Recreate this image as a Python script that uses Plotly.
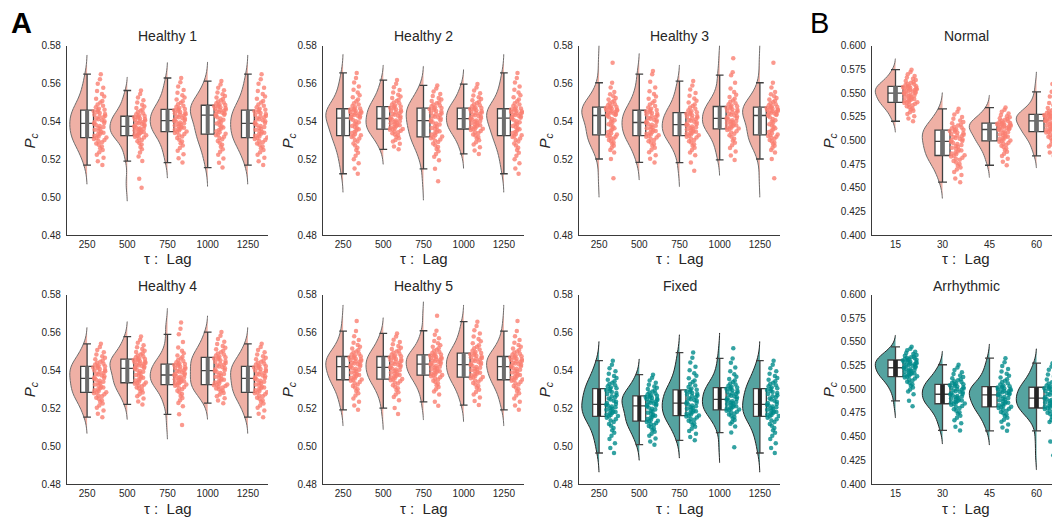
import plotly.graph_objects as go

# ---------------- data (values in units of 1e-4) ----------------
LAGS_A = ["250", "500", "750", "1000", "1250"]
LAGS_B = ["15", "30", "45", "60"]
SCALE = 1e-4

H1_250 = [5170, 5190, 5209, 5225, 5238, 5249, 5259, 5268, 5277, 5284, 5291, 5297, 5302, 5308, 5313,
          5316, 5321, 5325, 5331, 5335, 5341, 5345, 5350, 5356, 5361, 5366, 5371, 5376, 5382, 5388,
          5392, 5397, 5402, 5407, 5412, 5417, 5422, 5426, 5431, 5436, 5440, 5445, 5450, 5454, 5459,
          5462, 5468, 5475, 5483, 5490, 5500, 5509, 5521, 5532, 5546, 5561, 5578, 5599, 5623, 5650]
H1_500 = [5050, 5098, 5191, 5215, 5236, 5254, 5266, 5279, 5287, 5296, 5303, 5310, 5315, 5320, 5325,
          5327, 5330, 5333, 5337, 5339, 5343, 5346, 5349, 5352, 5356, 5359, 5362, 5365, 5369, 5373,
          5376, 5379, 5383, 5387, 5391, 5395, 5398, 5402, 5405, 5409, 5413, 5416, 5420, 5423, 5427,
          5429, 5433, 5439, 5444, 5450, 5457, 5463, 5472, 5480, 5489, 5500, 5512, 5527, 5545, 5564]
H1_750 = [5183, 5206, 5227, 5245, 5260, 5273, 5285, 5295, 5304, 5313, 5321, 5327, 5334, 5340, 5345,
          5348, 5352, 5356, 5360, 5363, 5367, 5371, 5375, 5379, 5383, 5386, 5391, 5395, 5399, 5403,
          5407, 5411, 5415, 5419, 5423, 5427, 5432, 5436, 5439, 5443, 5447, 5451, 5455, 5459, 5463,
          5466, 5471, 5477, 5484, 5491, 5499, 5507, 5517, 5527, 5539, 5552, 5567, 5585, 5607, 5630]
H1_1000 = [5157, 5182, 5205, 5224, 5240, 5254, 5267, 5277, 5288, 5297, 5306, 5313, 5320, 5327, 5332,
           5336, 5343, 5349, 5356, 5362, 5369, 5375, 5382, 5389, 5396, 5402, 5409, 5416, 5423, 5431,
           5436, 5439, 5443, 5446, 5450, 5454, 5457, 5461, 5464, 5468, 5471, 5475, 5478, 5481, 5485,
           5487, 5491, 5496, 5501, 5506, 5513, 5519, 5527, 5535, 5544, 5554, 5565, 5579, 5596, 5614]
H1_1250 = list(H1_250)

H2_250 = [5124, 5152, 5179, 5201, 5219, 5235, 5249, 5261, 5273, 5284, 5294, 5302, 5310, 5318, 5324,
          5328, 5334, 5340, 5346, 5352, 5359, 5364, 5371, 5377, 5384, 5389, 5396, 5402, 5409, 5416,
          5420, 5424, 5427, 5431, 5434, 5437, 5441, 5444, 5447, 5450, 5454, 5456, 5460, 5463, 5466,
          5469, 5475, 5482, 5490, 5497, 5507, 5516, 5528, 5539, 5553, 5568, 5585, 5606, 5630, 5657]
H2_500 = [5253, 5268, 5282, 5294, 5303, 5312, 5319, 5326, 5332, 5338, 5343, 5347, 5351, 5356, 5359,
          5361, 5365, 5368, 5372, 5376, 5380, 5383, 5387, 5391, 5395, 5398, 5402, 5406, 5410, 5414,
          5418, 5422, 5427, 5431, 5436, 5440, 5444, 5449, 5453, 5457, 5461, 5465, 5470, 5473, 5478,
          5480, 5485, 5490, 5496, 5501, 5508, 5515, 5524, 5532, 5542, 5553, 5566, 5581, 5599, 5619]
H2_750 = [5085, 5150, 5196, 5214, 5229, 5243, 5255, 5265, 5275, 5284, 5292, 5299, 5305, 5312, 5317,
          5321, 5327, 5332, 5338, 5343, 5349, 5354, 5360, 5366, 5372, 5377, 5384, 5390, 5396, 5402,
          5407, 5412, 5416, 5421, 5425, 5430, 5435, 5439, 5443, 5448, 5453, 5456, 5461, 5465, 5470,
          5472, 5476, 5481, 5485, 5490, 5496, 5502, 5509, 5517, 5525, 5535, 5545, 5559, 5574, 5591]
H2_1000 = [5229, 5247, 5264, 5279, 5291, 5301, 5310, 5318, 5326, 5332, 5339, 5344, 5350, 5355, 5359,
           5362, 5364, 5369, 5373, 5375, 5381, 5384, 5386, 5392, 5394, 5399, 5403, 5405, 5411, 5413,
           5418, 5422, 5425, 5429, 5433, 5437, 5441, 5445, 5448, 5452, 5456, 5459, 5463, 5466, 5470,
           5472, 5476, 5481, 5486, 5491, 5498, 5504, 5512, 5519, 5528, 5538, 5550, 5564, 5580, 5598]
H2_1250 = list(H2_250)

H3_250 = [5100, 5202, 5236, 5250, 5262, 5272, 5281, 5288, 5296, 5302, 5309, 5314, 5319, 5324, 5328,
          5331, 5338, 5345, 5352, 5358, 5365, 5372, 5379, 5386, 5393, 5400, 5407, 5414, 5422, 5430,
          5434, 5437, 5440, 5443, 5446, 5449, 5452, 5455, 5458, 5461, 5464, 5467, 5470, 5472, 5475,
          5477, 5481, 5486, 5491, 5497, 5503, 5510, 5517, 5525, 5534, 5544, 5556, 5580, 5605, 5710]
H3_500 = [5184, 5204, 5222, 5238, 5251, 5262, 5272, 5281, 5289, 5296, 5303, 5309, 5315, 5320, 5325,
          5327, 5332, 5336, 5341, 5345, 5350, 5354, 5359, 5364, 5369, 5373, 5378, 5383, 5387, 5393,
          5397, 5401, 5406, 5410, 5415, 5419, 5424, 5428, 5432, 5437, 5441, 5445, 5449, 5453, 5458,
          5461, 5467, 5474, 5482, 5490, 5499, 5509, 5520, 5532, 5545, 5560, 5580, 5610, 5650, 5667]
H3_750 = [5140, 5183, 5222, 5237, 5250, 5262, 5272, 5280, 5289, 5296, 5303, 5309, 5315, 5320, 5325,
          5327, 5331, 5335, 5339, 5342, 5346, 5350, 5354, 5358, 5362, 5365, 5370, 5374, 5378, 5382,
          5386, 5390, 5395, 5399, 5404, 5408, 5412, 5417, 5421, 5425, 5429, 5433, 5438, 5441, 5446,
          5449, 5454, 5460, 5467, 5474, 5482, 5490, 5500, 5510, 5522, 5536, 5551, 5569, 5591, 5614]
H3_1000 = [5197, 5220, 5242, 5260, 5275, 5288, 5299, 5309, 5319, 5327, 5336, 5342, 5349, 5355, 5360,
           5363, 5367, 5370, 5374, 5377, 5381, 5385, 5388, 5392, 5396, 5399, 5403, 5407, 5411, 5415,
           5419, 5423, 5428, 5432, 5436, 5441, 5445, 5449, 5453, 5457, 5462, 5465, 5470, 5473, 5478,
           5481, 5485, 5491, 5497, 5504, 5511, 5520, 5530, 5541, 5556, 5575, 5605, 5645, 5660, 5734]
H3_1250 = list(H3_250)

H4_250 = [5153, 5171, 5188, 5203, 5215, 5225, 5234, 5242, 5250, 5256, 5263, 5268, 5274, 5279, 5283,
          5285, 5291, 5295, 5300, 5305, 5310, 5314, 5320, 5325, 5330, 5334, 5340, 5345, 5350, 5356,
          5360, 5364, 5369, 5373, 5378, 5382, 5386, 5391, 5395, 5399, 5403, 5407, 5412, 5415, 5420,
          5422, 5426, 5431, 5435, 5440, 5446, 5452, 5459, 5466, 5475, 5484, 5495, 5508, 5523, 5540]
H4_500 = [5220, 5236, 5251, 5263, 5274, 5283, 5291, 5298, 5304, 5310, 5316, 5320, 5325, 5329, 5333,
          5336, 5341, 5346, 5351, 5356, 5361, 5366, 5371, 5376, 5382, 5386, 5392, 5397, 5403, 5409,
          5412, 5416, 5419, 5423, 5426, 5429, 5433, 5436, 5439, 5442, 5446, 5448, 5452, 5455, 5458,
          5460, 5464, 5469, 5473, 5478, 5484, 5490, 5497, 5504, 5513, 5522, 5533, 5546, 5561, 5578]
H4_750 = [5112, 5168, 5210, 5228, 5242, 5254, 5265, 5275, 5284, 5292, 5300, 5306, 5312, 5319, 5323,
          5326, 5330, 5333, 5336, 5339, 5343, 5346, 5349, 5353, 5356, 5359, 5363, 5366, 5370, 5374,
          5377, 5381, 5385, 5389, 5393, 5397, 5401, 5405, 5409, 5413, 5417, 5420, 5424, 5428, 5432,
          5434, 5438, 5443, 5449, 5455, 5462, 5470, 5479, 5490, 5503, 5520, 5550, 5590, 5620, 5652]
H4_1000 = [5227, 5241, 5253, 5264, 5273, 5281, 5288, 5294, 5300, 5304, 5309, 5313, 5317, 5321, 5324,
           5326, 5332, 5336, 5341, 5346, 5351, 5355, 5361, 5366, 5371, 5375, 5381, 5386, 5391, 5397,
           5401, 5406, 5411, 5416, 5420, 5425, 5430, 5435, 5439, 5444, 5449, 5453, 5458, 5462, 5467,
           5469, 5473, 5479, 5484, 5489, 5496, 5503, 5511, 5519, 5528, 5539, 5551, 5566, 5583, 5602]
H4_1250 = list(H4_250)

H5_250 = [5192, 5214, 5235, 5252, 5267, 5279, 5291, 5300, 5310, 5318, 5326, 5332, 5338, 5345, 5349,
          5352, 5357, 5361, 5366, 5370, 5375, 5379, 5384, 5389, 5394, 5398, 5403, 5408, 5412, 5418,
          5422, 5425, 5429, 5433, 5436, 5440, 5444, 5448, 5451, 5454, 5458, 5461, 5465, 5468, 5472,
          5474, 5478, 5483, 5488, 5494, 5500, 5507, 5515, 5524, 5534, 5546, 5560, 5580, 5607, 5660]
H5_500 = [5170, 5201, 5242, 5259, 5273, 5285, 5296, 5305, 5314, 5322, 5330, 5336, 5342, 5348, 5352,
          5355, 5360, 5363, 5368, 5371, 5376, 5379, 5384, 5388, 5392, 5396, 5401, 5405, 5409, 5414,
          5418, 5422, 5426, 5430, 5434, 5438, 5442, 5446, 5449, 5453, 5457, 5460, 5464, 5468, 5472,
          5474, 5478, 5483, 5488, 5493, 5499, 5505, 5512, 5519, 5528, 5538, 5549, 5562, 5578, 5595]
H5_750 = [5213, 5234, 5272, 5288, 5300, 5312, 5321, 5330, 5338, 5345, 5352, 5358, 5364, 5369, 5374,
          5376, 5380, 5384, 5388, 5391, 5395, 5399, 5403, 5407, 5411, 5414, 5419, 5423, 5427, 5431,
          5434, 5438, 5441, 5445, 5448, 5452, 5455, 5458, 5461, 5465, 5468, 5471, 5475, 5478, 5481,
          5483, 5487, 5492, 5497, 5503, 5509, 5516, 5524, 5533, 5543, 5555, 5570, 5588, 5609, 5688]
H5_1000 = [5217, 5238, 5257, 5273, 5286, 5298, 5308, 5317, 5326, 5333, 5340, 5346, 5352, 5358, 5363,
           5365, 5370, 5374, 5379, 5382, 5387, 5391, 5396, 5400, 5405, 5409, 5414, 5418, 5423, 5428,
           5432, 5436, 5440, 5444, 5449, 5453, 5457, 5461, 5465, 5469, 5473, 5477, 5481, 5485, 5489,
           5492, 5497, 5503, 5510, 5517, 5525, 5533, 5543, 5553, 5565, 5579, 5594, 5612, 5634, 5657]
H5_1250 = list(H5_250)

FX_250 = [4964, 4991, 5016, 5038, 5055, 5071, 5084, 5096, 5108, 5117, 5127, 5135, 5142, 5150, 5156,
          5159, 5164, 5167, 5172, 5175, 5180, 5183, 5188, 5192, 5196, 5200, 5205, 5209, 5213, 5218,
          5223, 5228, 5234, 5240, 5246, 5252, 5258, 5264, 5269, 5275, 5280, 5286, 5291, 5296, 5302,
          5305, 5310, 5316, 5322, 5328, 5335, 5342, 5351, 5360, 5370, 5382, 5395, 5411, 5430, 5451]
FX_500 = [5008, 5025, 5041, 5055, 5066, 5076, 5085, 5092, 5100, 5106, 5112, 5117, 5122, 5127, 5131,
          5134, 5139, 5144, 5150, 5155, 5160, 5165, 5171, 5177, 5182, 5187, 5193, 5198, 5204, 5211,
          5215, 5218, 5222, 5225, 5229, 5233, 5236, 5240, 5243, 5247, 5250, 5254, 5257, 5260, 5264,
          5266, 5269, 5274, 5278, 5283, 5289, 5294, 5301, 5308, 5315, 5324, 5334, 5347, 5361, 5377]
FX_750 = [5031, 5049, 5066, 5080, 5092, 5103, 5112, 5119, 5127, 5134, 5140, 5145, 5151, 5156, 5160,
          5162, 5167, 5171, 5176, 5179, 5184, 5188, 5193, 5197, 5202, 5206, 5211, 5215, 5220, 5225,
          5229, 5234, 5239, 5244, 5248, 5253, 5258, 5263, 5267, 5272, 5277, 5281, 5286, 5290, 5295,
          5298, 5304, 5312, 5320, 5328, 5338, 5347, 5359, 5371, 5385, 5401, 5419, 5441, 5466, 5494]
FX_1000 = [4994, 5072, 5104, 5118, 5128, 5138, 5146, 5154, 5161, 5167, 5173, 5178, 5182, 5187, 5191,
           5193, 5197, 5200, 5204, 5207, 5211, 5215, 5218, 5222, 5226, 5229, 5233, 5237, 5241, 5245,
           5249, 5253, 5258, 5262, 5266, 5271, 5275, 5279, 5283, 5287, 5292, 5295, 5300, 5303, 5308,
           5310, 5314, 5319, 5325, 5331, 5338, 5346, 5355, 5366, 5379, 5395, 5415, 5440, 5463, 5516]
FX_1250 = list(FX_250)

NO_15 = [5203, 5231, 5257, 5279, 5297, 5313, 5327, 5339, 5351, 5361, 5371, 5379, 5387, 5395, 5401,
         5405, 5412, 5418, 5424, 5430, 5437, 5443, 5450, 5456, 5463, 5469, 5476, 5483, 5489, 5497,
         5502, 5507, 5512, 5517, 5522, 5527, 5532, 5537, 5542, 5547, 5552, 5556, 5561, 5566, 5571,
         5574, 5579, 5586, 5593, 5600, 5609, 5618, 5628, 5639, 5651, 5665, 5681, 5700, 5723, 5748]
NO_30 = [4559, 4598, 4635, 4666, 4692, 4714, 4734, 4751, 4768, 4782, 4796, 4807, 4818, 4830, 4838,
         4844, 4854, 4863, 4874, 4883, 4893, 4902, 4913, 4923, 4933, 4942, 4953, 4963, 4974, 4986,
         4994, 5002, 5010, 5019, 5027, 5036, 5044, 5052, 5060, 5068, 5076, 5084, 5092, 5099, 5108,
         5112, 5119, 5128, 5137, 5146, 5157, 5168, 5182, 5195, 5211, 5229, 5249, 5274, 5303, 5334]
NO_45 = [4738, 4774, 4808, 4836, 4860, 4880, 4899, 4914, 4930, 4943, 4956, 4966, 4976, 4987, 4994,
         4999, 5008, 5015, 5023, 5031, 5039, 5046, 5055, 5063, 5071, 5079, 5087, 5095, 5104, 5113,
         5119, 5124, 5128, 5133, 5137, 5142, 5147, 5151, 5155, 5160, 5165, 5168, 5173, 5177, 5182,
         5185, 5190, 5196, 5203, 5209, 5218, 5226, 5236, 5246, 5257, 5270, 5285, 5303, 5325, 5348]
NO_60 = [4838, 4874, 4907, 4935, 4958, 4978, 4996, 5011, 5027, 5039, 5052, 5062, 5073, 5083, 5090,
         5095, 5103, 5110, 5118, 5125, 5133, 5140, 5148, 5156, 5164, 5171, 5179, 5186, 5194, 5204,
         5209, 5214, 5219, 5224, 5228, 5233, 5238, 5243, 5247, 5252, 5257, 5261, 5266, 5270, 5275,
         5278, 5284, 5292, 5300, 5309, 5319, 5330, 5343, 5357, 5374, 5395, 5425, 5465, 5514, 5597]

AR_15 = [4821, 4879, 4948, 4976, 4999, 5020, 5038, 5053, 5068, 5081, 5094, 5104, 5115, 5125, 5132,
         5137, 5143, 5149, 5155, 5161, 5168, 5173, 5180, 5186, 5193, 5198, 5205, 5211, 5218, 5225,
         5230, 5236, 5242, 5248, 5253, 5259, 5265, 5271, 5276, 5281, 5287, 5292, 5298, 5303, 5308,
         5311, 5316, 5321, 5327, 5332, 5339, 5346, 5354, 5362, 5372, 5383, 5396, 5411, 5429, 5448]
AR_30 = [4566, 4605, 4642, 4673, 4699, 4721, 4741, 4758, 4775, 4789, 4803, 4814, 4825, 4837, 4845,
         4850, 4857, 4863, 4870, 4876, 4883, 4889, 4896, 4903, 4910, 4916, 4923, 4930, 4937, 4945,
         4951, 4958, 4966, 4973, 4980, 4988, 4995, 5002, 5008, 5016, 5023, 5029, 5036, 5043, 5050,
         5054, 5060, 5069, 5077, 5085, 5095, 5106, 5118, 5131, 5145, 5162, 5180, 5203, 5230, 5259]
AR_45 = [4562, 4597, 4630, 4658, 4680, 4701, 4718, 4733, 4748, 4761, 4774, 4784, 4794, 4804, 4811,
         4817, 4825, 4833, 4842, 4850, 4858, 4866, 4875, 4884, 4893, 4900, 4909, 4918, 4927, 4937,
         4944, 4950, 4956, 4962, 4968, 4974, 4980, 4986, 4991, 4998, 5004, 5009, 5015, 5020, 5026,
         5031, 5040, 5052, 5064, 5076, 5091, 5106, 5124, 5142, 5163, 5187, 5214, 5247, 5286, 5328]
AR_60 = [4303, 4450, 4562, 4654, 4675, 4695, 4711, 4726, 4740, 4752, 4764, 4774, 4784, 4793, 4801,
         4805, 4812, 4819, 4826, 4832, 4839, 4846, 4853, 4860, 4867, 4874, 4881, 4888, 4896, 4904,
         4910, 4918, 4926, 4934, 4942, 4950, 4958, 4966, 4973, 4981, 4989, 4996, 5004, 5011, 5019,
         5024, 5031, 5041, 5052, 5062, 5075, 5087, 5103, 5118, 5136, 5156, 5179, 5207, 5240, 5276]

PANELS = [
    ("Healthy 1", [H1_250, H1_500, H1_750, H1_1000, H1_1250], LAGS_A, "salmon"),
    ("Healthy 2", [H2_250, H2_500, H2_750, H2_1000, H2_1250], LAGS_A, "salmon"),
    ("Healthy 3", [H3_250, H3_500, H3_750, H3_1000, H3_1250], LAGS_A, "salmon"),
    ("Normal", [NO_15, NO_30, NO_45, NO_60], LAGS_B, "salmon"),
    ("Healthy 4", [H4_250, H4_500, H4_750, H4_1000, H4_1250], LAGS_A, "salmon"),
    ("Healthy 5", [H5_250, H5_500, H5_750, H5_1000, H5_1250], LAGS_A, "salmon"),
    ("Fixed", [FX_250, FX_500, FX_750, FX_1000, FX_1250], LAGS_A, "teal"),
    ("Arrhythmic", [AR_15, AR_30, AR_45, AR_60], LAGS_B, "teal"),
]

# ---------------- styling ----------------
W, H = 1052, 527
FONT = "Arial, 'Liberation Sans', sans-serif"
TXT = "#262626"
STYLES = {
    "salmon": dict(violin="#EFB0A5", gray="#6d6d6d", pt="rgba(250,128,114,0.8)"),
    "teal": dict(violin="#55A3A0", gray="#262626", pt="rgba(0,139,139,0.8)"),
}
COL_PX = [(67, 268), (323, 524), (579, 780), (872, 1052)]
ROW_PX = [(41.7, 235.0), (295.7, 489.3)]
TITLE_Y = [32, 287]
XTITLE_Y = [259, 514]
YTITLE_X = [30, 288, 545, 829]

fig = go.Figure()

for k, (title, groups, lags, scheme) in enumerate(PANELS):
    sfx = "" if k == 0 else str(k + 1)
    xa, ya = "x" + sfx, "y" + sfx
    sty = STYLES[scheme]
    for i, g in enumerate(groups):
        ys = [v * SCALE for v in g]
        xs = [i] * len(ys)
        # half violin
        fig.add_trace(go.Violin(
            x=xs, y=ys, xaxis=xa, yaxis=ya, orientation="v", side="negative",
            width=0.86, scalemode="width", spanmode="soft", points=False,
            fillcolor=sty["violin"], line=dict(color=sty["gray"], width=1),
            box_visible=False, meanline_visible=False, showlegend=False, hoverinfo="skip"))
        # white box plot (whiskers at 1.5 IQR; outlier markers hidden)
        fig.add_trace(go.Box(
            x=xs, y=ys, xaxis=xa, yaxis=ya, orientation="v", width=0.32,
            fillcolor="white", line=dict(color="#404040", width=1.3), whiskerwidth=0.6,
            boxpoints="outliers", marker=dict(color="rgba(0,0,0,0)", size=1, line=dict(width=0)),
            showlegend=False, hoverinfo="skip"))
        # dark inner bar (violin inner box)
        fig.add_trace(go.Box(
            x=xs, y=ys, xaxis=xa, yaxis=ya, orientation="v", width=0.1,
            fillcolor=sty["gray"], line=dict(color=sty["gray"], width=0), whiskerwidth=0,
            boxpoints=False, showlegend=False, hoverinfo="skip"))
        # strip points (invisible carrier box)
        fig.add_trace(go.Box(
            x=xs, y=ys, xaxis=xa, yaxis=ya, orientation="v", width=0.4,
            fillcolor="rgba(0,0,0,0)", line=dict(color="rgba(0,0,0,0)", width=0), whiskerwidth=0,
            boxpoints="all", jitter=0.9, pointpos=1.65,
            marker=dict(color=sty["pt"], size=4.5, line=dict(width=0)),
            showlegend=False, hoverinfo="skip"))

    row, col = divmod(k, 4)
    x0, x1 = COL_PX[col]
    yt, yb = ROW_PX[row]
    n = len(lags)
    if col == 3:
        spacing = 188.0 / n
        xr = [-0.5, -0.5 + (x1 - x0) / spacing]
        ylim, ytv, yfmt = [0.4, 0.6], [0.4 + 0.025 * j for j in range(9)], ".3f"
    else:
        xr = [-0.5, n - 0.5]
        ylim, ytv, yfmt = [0.48, 0.58], [0.48 + 0.02 * j for j in range(6)], ".2f"
    axis_common = dict(showline=True, linecolor="#3a3a3a", linewidth=1.25, showgrid=False,
                       zeroline=False, tickfont=dict(family=FONT, size=10, color=TXT))
    fig.layout["xaxis" + sfx] = dict(domain=[x0 / W, x1 / W], anchor=ya, range=xr, ticks="",
                                     tickvals=list(range(n)), ticktext=lags, **axis_common)
    fig.layout["yaxis" + sfx] = dict(domain=[1 - yb / H, 1 - yt / H], anchor=xa, range=ylim,
                                     ticks="outside", ticklen=3, tickcolor="rgba(0,0,0,0)",
                                     tickvals=ytv, tickformat=yfmt, **axis_common)

    title_cx = (x0 + (x0 + 188 if col == 3 else x1)) / 2
    fig.add_annotation(text=title, x=title_cx / W, y=1 - TITLE_Y[row] / H, xref="paper", yref="paper",
                       showarrow=False, xanchor="center", yanchor="middle",
                       font=dict(family=FONT, size=14, color=TXT))
    fig.add_annotation(text="τ :\u00a0 Lag", x=title_cx / W, y=1 - XTITLE_Y[row] / H, xref="paper",
                       yref="paper", showarrow=False, xanchor="center", yanchor="middle",
                       font=dict(family=FONT, size=15, color=TXT))
    fig.add_annotation(text="<i>P</i><sub><i>c</i></sub>", x=YTITLE_X[col] / W, y=1 - (yt + yb) / 2 / H,
                       xref="paper", yref="paper", showarrow=False, textangle=-90,
                       xanchor="center", yanchor="middle", font=dict(family=FONT, size=15, color=TXT))

fig.add_annotation(text="<b>A</b>", x=21 / W, y=1 - 18 / H, xref="paper", yref="paper", showarrow=False,
                   xanchor="center", yanchor="middle", font=dict(family=FONT, size=29, color="#000"))
fig.add_annotation(text="B", x=819 / W, y=1 - 18 / H, xref="paper", yref="paper", showarrow=False,
                   xanchor="center", yanchor="middle", font=dict(family=FONT, size=29, color="#000"))

fig.update_layout(width=W, height=H, margin=dict(l=0, r=0, t=0, b=0),
                  paper_bgcolor="white", plot_bgcolor="white", showlegend=False,
                  boxmode="overlay", violinmode="overlay", font=dict(family=FONT, color=TXT))

fig.write_html("out.html")
